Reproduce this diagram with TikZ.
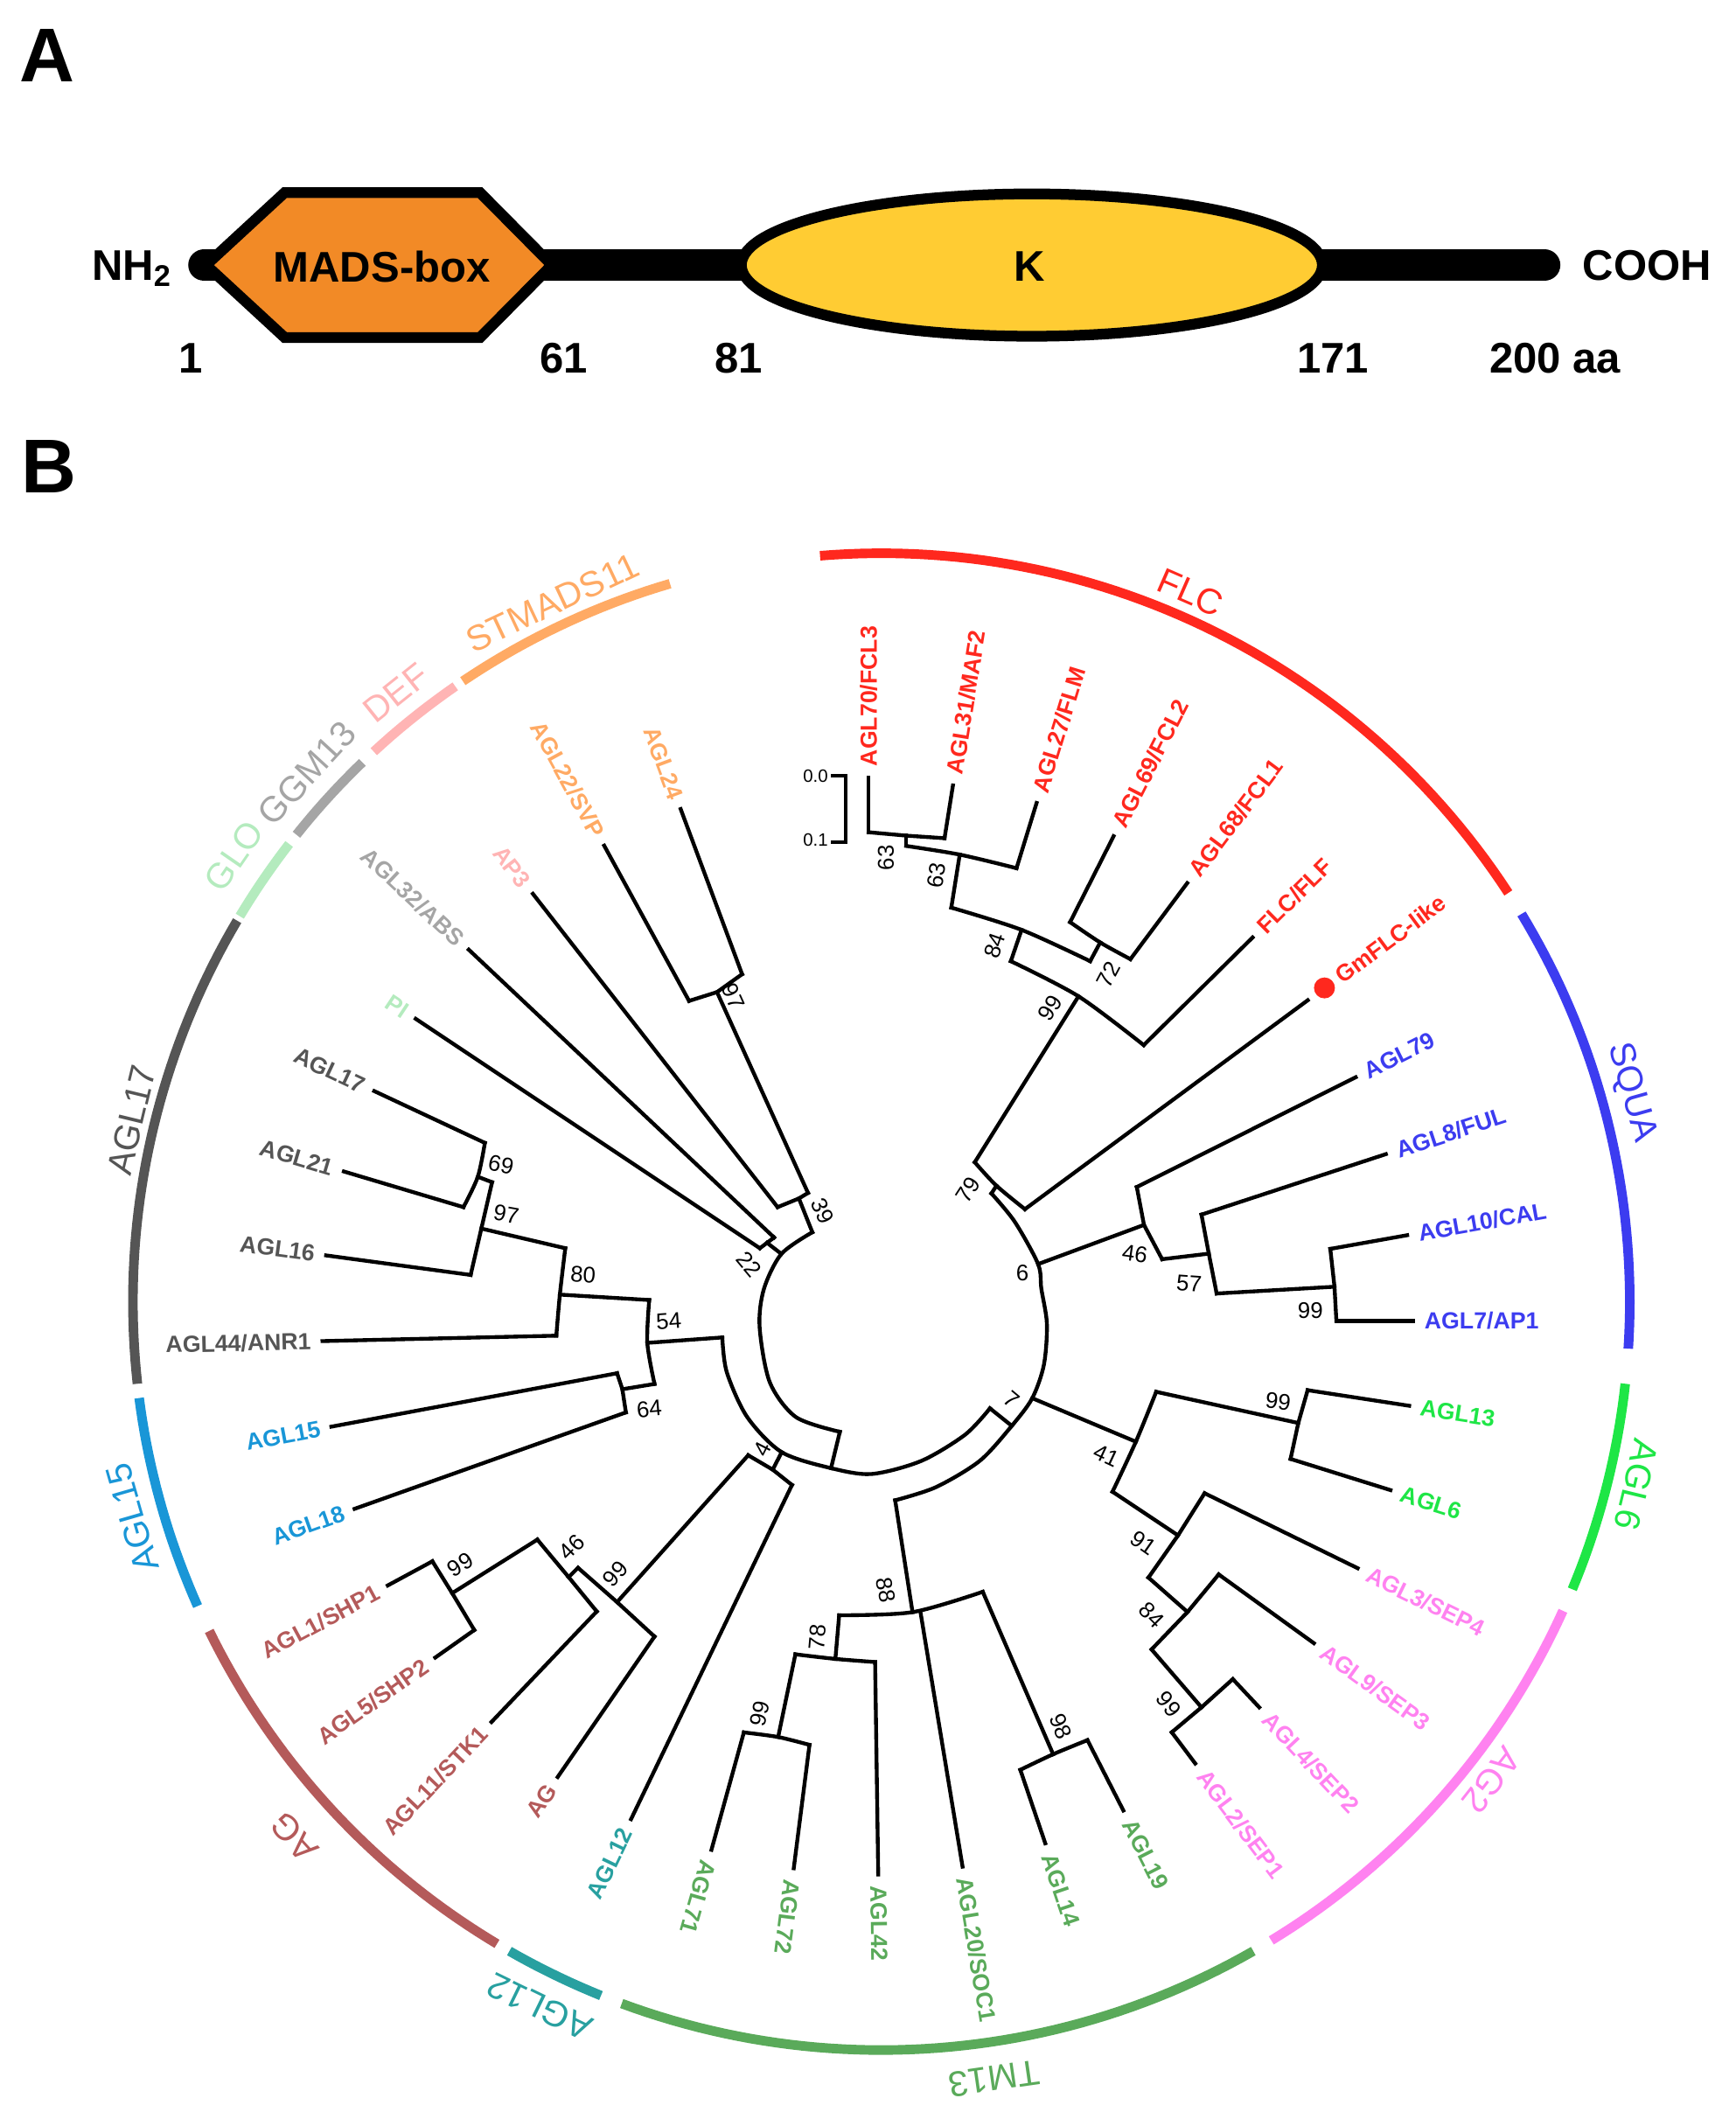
\documentclass[tikz,border=0pt]{standalone}
\usepackage{fontspec}
\setmainfont{Liberation Sans}
\usepackage{tikz}
\usetikzlibrary{calc}
\definecolor{madsorange}{RGB}{242,138,38}
\definecolor{kyellow}{RGB}{255,204,51}
\definecolor{cFLC}{RGB}{255,40,30}
\definecolor{cSQUA}{RGB}{60,60,240}
\definecolor{cAGLsix}{RGB}{30,230,70}
\definecolor{cAGtwo}{RGB}{255,130,240}
\definecolor{cTM}{RGB}{90,170,90}
\definecolor{cAGLtw}{RGB}{40,160,160}
\definecolor{cAG}{RGB}{180,90,90}
\definecolor{cAGLfif}{RGB}{25,150,215}
\definecolor{cAGLsev}{RGB}{85,85,85}
\definecolor{cGLO}{RGB}{180,235,190}
\definecolor{cGGM}{RGB}{165,165,165}
\definecolor{cDEF}{RGB}{255,180,180}
\definecolor{cSTM}{RGB}{255,170,100}
\begin{document}
\begin{tikzpicture}[x=0.02cm,y=-0.02cm,
	br/.style={line width=1.6pt,line cap=rect},
	clade/.style={line width=4pt},
	lr/.style={anchor=west,inner sep=4pt,font=\fontsize{9.8}{10}\selectfont\bfseries},
	ll/.style={anchor=east,inner sep=4pt,font=\fontsize{9.8}{10}\selectfont\bfseries},
	bs/.style={inner sep=0pt,font=\fontsize{9.5}{10}\selectfont},
	clab/.style={inner sep=0pt,font=\fontsize{15}{16}\selectfont},
	dom/.style={line width=4.5pt,line join=miter},
	big/.style={inner sep=0pt,font=\fontsize{18}{18}\selectfont\bfseries},
	panel/.style={inner sep=0pt,font=\fontsize{32}{32}\selectfont\bfseries}]
\useasboundingbox (0,0) rectangle (1280,1568);

% A: domain structure
\node[panel] (labA) at (35,41) {A};
\coordinate (nterm) at (150.6,195.5);
\coordinate (cterm) at (1139,195.5);
\draw[line width=13.4pt,line cap=round] (nterm) -- (cterm);
\draw[dom,fill=madsorange] (152,195.5) -- (210,142) -- (354,142) -- (407,195.5) -- (354,249) -- (210,249) -- cycle;
\draw[dom,fill=kyellow] (761,195.5) ellipse [x radius=4.286cm,y radius=1.05cm];
\node[big] (mads) at (281.6,196.8) {MADS-box};
\node[big] (kdom) at (759,196.8) {K};
\node[big,anchor=base east] (nh) at (127,206.5) {NH\textsubscript{2}};
\node[big,anchor=base west] (cooh) at (1167,206.5) {COOH};
\node[big,anchor=base] (p1) at (141,275.3) {1};
\node[big,anchor=base] (p61) at (416,275.3) {61};
\node[big,anchor=base] (p81) at (545,275.3) {81};
\node[big,anchor=base] (p171) at (983,275.3) {171};
\node[big,anchor=base] (p200) at (1147,275.3) {200 aa};

% B: tree
\node[panel] (labB) at (36,344) {B};

\draw[clade,cFLC] plot[domain=94.7:33.1,samples=60] ({650+552*cos(\x)},{960-552*sin(\x)});
\draw[clade,cSQUA] plot[domain=31.2:-3.6,samples=40] ({650+552*cos(\x)},{960-552*sin(\x)});
\draw[clade,cAGLsix] plot[domain=-6.3:-22.6,samples=20] ({650+552*cos(\x)},{960-552*sin(\x)});
\draw[clade,cAGtwo] plot[domain=-24.4:-58.6,samples=40] ({650+552*cos(\x)},{960-552*sin(\x)});
\draw[clade,cTM] plot[domain=-60.2:-110.3,samples=50] ({650+552*cos(\x)},{960-552*sin(\x)});
\draw[clade,cAGLtw] plot[domain=-112:-119.8,samples=10] ({650+552*cos(\x)},{960-552*sin(\x)});
\draw[clade,cAG] plot[domain=-120.9:-153.9,samples=40] ({650+552*cos(\x)},{960-552*sin(\x)});
\draw[clade,cAGLfif] plot[domain=-156:-172.6,samples=20] ({650+552*cos(\x)},{960-552*sin(\x)});
\draw[clade,cAGLsev] plot[domain=-173.7:-210.6,samples=40] ({650+552*cos(\x)},{960-552*sin(\x)});
\draw[clade,cGLO] plot[domain=149:142.3,samples=10] ({650+552*cos(\x)},{960-552*sin(\x)});
\draw[clade,cGGM] plot[domain=141.4:133.9,samples=10] ({650+552*cos(\x)},{960-552*sin(\x)});
\draw[clade,cDEF] plot[domain=132.7:124.7,samples=10] ({650+552*cos(\x)},{960-552*sin(\x)});
\draw[clade,cSTM] plot[domain=124:106.4,samples=20] ({650+552*cos(\x)},{960-552*sin(\x)});

\node[clab,text=cFLC,rotate=-23.6] (gFLC) at (878,437) {FLC};
\node[clab,text=cSQUA,rotate=-74.4] (gSQUA) at (1203,806) {SQUA};
\node[clab,text=cAGLsix,rotate=-103.6] (gAGLsix) at (1207,1095) {AGL6};
\node[clab,text=cAGtwo,rotate=-128.1] (gAGtwo) at (1100,1313) {AG2};
\node[clab,text=cTM,rotate=-171.8] (gTM) at (733,1533) {TM13};
\node[clab,text=cAGLtw,rotate=154.1] (gAGLtw) at (398,1480) {AGL12};
\node[clab,text=cAG,rotate=132.4] (gAG) at (217,1355) {AG};
\node[clab,text=cAGLfif,rotate=106.1] (gAGLfif) at (97.5,1119.4) {AGL15};
\node[clab,text=cAGLsev,rotate=76.4] (gAGLsev) at (97,826) {AGL17};
\node[clab,text=cGLO,rotate=55.4] (gGLO) at (172.8,631.2) {GLO};
\node[clab,text=cGGM,rotate=47.4] (gGGM) at (226.3,570.4) {GGM13};
\node[clab,text=cDEF,rotate=38.6] (gDEF) at (292.2,511.1) {DEF};
\node[clab,text=cSTM,rotate=25.2] (gSTM) at (407.3,444.5) {STMADS11};

% scale bar
\node[bs,anchor=east,font=\fontsize{7.5}{8}\selectfont] (sc0) at (611,572.1) {0.0};
\node[bs,anchor=east,font=\fontsize{7.5}{8}\selectfont] (sc1) at (611,619.6) {0.1};
\draw[br] (613.9,572.1) -- (623.8,572.1) -- (623.8,621) -- (613.9,621);

% backbone
\coordinate (s39) at (599.1,908.8);
\coordinate (s22) at (576.3,924.8);
\coordinate (r1) at (619.4,1056);
\coordinate (r1o) at (612.9,1082.8);
\coordinate (s54) at (532.7,986.4);
\coordinate (s4) at (576.5,1071);
\coordinate (r7) at (730.1,1038.7);
\coordinate (r7o) at (746.2,1051.6);
\coordinate (sTM) at (660.2,1106.5);
\coordinate (sAS) at (761.3,1031.2);
\coordinate (sSQ) at (765.6,932.3);
\coordinate (s79) at (731.2,880.2);
\draw[br] plot[smooth] coordinates {(s39) (s22) (563.4,950.6) (560.2,978.5) (567.7,1019.4) (587.1,1045.2) (r1)};
\draw[br] (r1) -- (r1o);
\draw[br] plot[smooth] coordinates {(s54) (536,1012) (551,1045) (s4) (r1o) (643,1087.1) (679.6,1077.4) (711.8,1058.1) (r7)};
\draw[br] (r7) -- (r7o);
\draw[br] plot[smooth] coordinates {(sTM) (690.3,1096.8) (722.6,1077.4) (r7o) (sAS) (769.9,1006.5) (772.1,976.4) (768,950.5) (sSQ) (748.4,901.1) (s79)};
\node[bs,rotate=-40] (bt7) at (746.2,1032.3) {7};
\node[bs] (bt6) at (754,939) {6};

% FLC
\coordinate (b70) at (640.6,613.8); \coordinate (t70) at (640.6,573.5);
\coordinate (b31) at (696.6,618.2); \coordinate (t31) at (702.8,579.3);
\coordinate (n63a) at (668.3,616.3); \coordinate (s63a) at (668.3,623.9);
\coordinate (b27) at (749.7,640.3); \coordinate (t27) at (764.5,592.2);
\coordinate (n63b) at (707.8,630.3); \coordinate (s63b) at (701.6,669.4);
\coordinate (b69) at (789.2,680.1); \coordinate (t69) at (821.3,616.7);
\coordinate (b68) at (833.7,707.4); \coordinate (t68) at (875.6,651.3);
\coordinate (n72) at (811.4,695.1); \coordinate (s72) at (804,708.9);
\coordinate (n84) at (753.4,685.8); \coordinate (s84) at (745.5,708.9);
\coordinate (bFLF) at (843.5,770.8); \coordinate (tFLF) at (923.8,691.4);
\coordinate (n99f) at (795.4,734.8); \coordinate (s99f) at (718.9,857.2);
\coordinate (bGm) at (755.9,891.8); \coordinate (tGm) at (964.5,737.7);
\coordinate (n79) at (734.9,874.5);
\draw[br] (b70) -- (t70) node[lr,rotate=90,text=cFLC] {AGL70/FCL3};
\draw[br] (b31) -- (t31) node[lr,rotate=80.9,text=cFLC] {AGL31/MAF2};
\draw[br] (b27) -- (t27) node[lr,rotate=72.9,text=cFLC] {AGL27/FLM};
\draw[br] (b69) -- (t69) node[lr,rotate=63.1,text=cFLC] {AGL69/FCL2};
\draw[br] (b68) -- (t68) node[lr,rotate=53.2,text=cFLC] {AGL68/FCL1};
\draw[br] (bFLF) -- (tFLF) node[lr,rotate=44.7,text=cFLC] {FLC/FLF};
\draw[br] (bGm) -- (tGm);
\fill[cFLC] ($(tGm)!-8.7pt!(bGm)$) circle (4.4pt);
\node[lr,rotate=36.5,text=cFLC] (lGm) at ($(tGm)!-11.5pt!(bGm)$) {GmFLC-like};
\draw[br] (b70) -- (n63a) -- (b31);
\draw[br] (n63a) -- (s63a);
\draw[br] plot[smooth] coordinates {(s63a) (n63b) (b27)};
\draw[br] (n63b) -- (s63b);
\draw[br] plot[smooth] coordinates {(b69) (n72) (b68)};
\draw[br] (n72) -- (s72);
\draw[br] plot[smooth] coordinates {(s63b) (n84) (s72)};
\draw[br] (n84) -- (s84);
\draw[br] plot[smooth] coordinates {(s84) (n99f) (bFLF)};
\draw[br] (n99f) -- (s99f);
\draw[br] plot[smooth] coordinates {(s99f) (n79) (bGm)};
\draw[br] (n79) -- (s79);
\node[bs,rotate=90] (bt63a) at (653.4,632.6) {63};
\node[bs,rotate=81] (bt63b) at (690.5,645.5) {63};
\node[bs,rotate=71] (bt84f) at (733.7,697.4) {84};
\node[bs,rotate=62] (bt72) at (817.6,719) {72};
\node[bs,rotate=58] (bt99f) at (774.4,743.4) {99};
\node[bs,rotate=57] (bt79) at (713.9,877.4) {79};

% SQUA
\coordinate (bA79) at (838.4,875.5); \coordinate (tA79) at (999.8,794.5);
\coordinate (bFUL) at (886.1,895.8); \coordinate (tFUL) at (1022.1,851.2);
\coordinate (bCAL) at (981.1,921.1); \coordinate (tCAL) at (1037.8,911);
\coordinate (bAP1) at (985.6,974.3); \coordinate (tAP1) at (1042.2,974.3);
\coordinate (n99s) at (984.2,949); \coordinate (s99s) at (897.3,954);
\coordinate (n57) at (891.5,924.6); \coordinate (s57) at (857.1,928.7);
\coordinate (n46) at (843.7,903.4);
\draw[br] (bA79) -- (tA79) node[lr,rotate=26.6,text=cSQUA] {AGL79};
\draw[br] (bFUL) -- (tFUL) node[lr,rotate=18.2,text=cSQUA] {AGL8/FUL};
\draw[br] (bCAL) -- (tCAL) node[lr,rotate=10.1,text=cSQUA] {AGL10/CAL};
\draw[br] (bAP1) -- (tAP1) node[lr,text=cSQUA] {AGL7/AP1};
\draw[br] (bCAL) -- (n99s) -- (bAP1);
\draw[br] (n99s) -- (s99s);
\draw[br] (bFUL) -- (n57) -- (s99s);
\draw[br] (n57) -- (s57);
\draw[br] (bA79) -- (n46) -- (s57);
\draw[br] (n46) -- (sSQ);
\node[bs,rotate=-8] (bt46s) at (837,925) {46};
\node[bs,rotate=-4] (bt57) at (877,946.5) {57};
\node[bs] (bt99s) at (966.4,966.7) {99};

% AGL6 and SEP
\coordinate (n41) at (837.7,1063.3);
\coordinate (a41t) at (852.7,1026.5); \coordinate (a41b) at (820.5,1100.2);
\coordinate (n99g) at (957.5,1049.5);
\coordinate (bA13) at (964.4,1025.3); \coordinate (tA13) at (1039.3,1036.8);
\coordinate (bA6) at (951.8,1076); \coordinate (tA6) at (1025.5,1099);
\coordinate (n91) at (868.8,1132.4); \coordinate (a91b) at (847,1163.5);
\coordinate (bS4) at (888.4,1101.3); \coordinate (tS4) at (1001.3,1156.6);
\coordinate (n84s) at (875.8,1188.9); \coordinate (a84b) at (849.3,1216.5);
\coordinate (bS3) at (898.8,1161.2); \coordinate (tS3) at (969,1211.9);
\coordinate (n99p) at (886.1,1259.2);
\coordinate (bS2) at (909.2,1238.4); \coordinate (tS2) at (928.7,1259.2);
\coordinate (bS1) at (864.2,1277.6); \coordinate (tS1) at (881.5,1300.6);
\draw[br] (sAS) -- (n41);
\draw[br] plot[smooth] coordinates {(a41t) (n41) (a41b)};
\draw[br] (a41t) -- (n99g);
\draw[br] (bA13) -- (n99g) -- (bA6);
\draw[br] (bA13) -- (tA13) node[lr,rotate=-8.7,text=cAGLsix] {AGL13};
\draw[br] (bA6) -- (tA6) node[lr,rotate=-17.3,text=cAGLsix] {AGL6};
\draw[br] (a41b) -- (n91);
\draw[br] (bS4) -- (n91) -- (a91b);
\draw[br] (bS4) -- (tS4) node[lr,rotate=-26.1,text=cAGtwo] {AGL3/SEP4};
\draw[br] (a91b) -- (n84s);
\draw[br] (bS3) -- (n84s) -- (a84b);
\draw[br] (bS3) -- (tS3) node[lr,rotate=-35.8,text=cAGtwo] {AGL9/SEP3};
\draw[br] (a84b) -- (n99p);
\draw[br] (bS2) -- (n99p) -- (bS1);
\draw[br] (bS2) -- (tS2) node[lr,rotate=-46.8,text=cAGtwo] {AGL4/SEP2};
\draw[br] (bS1) -- (tS1) node[lr,rotate=-53,text=cAGtwo] {AGL2/SEP1};
\node[bs,rotate=-7] (bt99g) at (942.6,1033.4) {99};
\node[bs,rotate=-25] (bt41) at (815.9,1073.7) {41};
\node[bs,rotate=-35] (bt91) at (843.5,1138.2) {91};
\node[bs,rotate=-45] (bt84s) at (849.3,1191.2) {84};
\node[bs,rotate=-52] (bt99p) at (861.9,1256.9) {99};

% TM13
\coordinate (n88) at (673,1189);
\coordinate (a88l) at (618.9,1191.3); \coordinate (a88r) at (724.8,1174);
\coordinate (bSOC) at (678.8,1188.6); \coordinate (tSOC) at (709.9,1376.7);
\coordinate (n78) at (616.1,1223.5); \coordinate (a78l) at (586.6,1220.1);
\coordinate (bA42) at (645.4,1225.8); \coordinate (tA42) at (647.7,1382.5);
\coordinate (n99t) at (573.9,1281.1);
\coordinate (bA71) at (548.6,1277.7); \coordinate (tA71) at (524.7,1364.3);
\coordinate (bA72) at (597,1286.9); \coordinate (tA72) at (585.4,1377.9);
\coordinate (n98) at (776.7,1293.8);
\coordinate (bA14) at (752.5,1305.3); \coordinate (tA14) at (770.9,1359.5);
\coordinate (bA19) at (802,1283.4); \coordinate (tA19) at (828.5,1335.3);
\draw[br] (sTM) -- (n88);
\draw[br] plot[smooth] coordinates {(a88l) (n88) (a88r)};
\draw[br] (bSOC) -- (tSOC) node[lr,rotate=-80.5,text=cTM] {AGL20/SOC1};
\draw[br] (a88l) -- (n78);
\draw[br] plot[smooth] coordinates {(a78l) (n78) (bA42)};
\draw[br] (bA42) -- (tA42) node[lr,rotate=-89.2,text=cTM] {AGL42};
\draw[br] (a78l) -- (n99t);
\draw[br] plot[smooth] coordinates {(bA71) (n99t) (bA72)};
\draw[br] (bA71) -- (tA71) node[lr,rotate=-106,text=cTM] {AGL71};
\draw[br] (bA72) -- (tA72) node[lr,rotate=-97.3,text=cTM] {AGL72};
\draw[br] (a88r) -- (n98);
\draw[br] plot[smooth] coordinates {(bA14) (n98) (bA19)};
\draw[br] (bA14) -- (tA14) node[lr,rotate=-71.3,text=cTM] {AGL14};
\draw[br] (bA19) -- (tA19) node[lr,rotate=-63,text=cTM] {AGL19};
\node[bs,rotate=-81] (bt88) at (653.4,1172.8) {88};
\node[bs,rotate=85] (bt78) at (602.7,1207.4) {78};
\node[bs,rotate=78] (bt99t) at (560.1,1263.9) {99};
\node[bs,rotate=-67] (bt98) at (782.4,1273.1) {98};

% AG and AGL12
\coordinate (n4) at (569.9,1083.9); \coordinate (a4l) at (551.8,1073.3);
\coordinate (bA12) at (584.1,1095.2); \coordinate (tA12) at (465.4,1341.7);
\coordinate (n99a) at (455.1,1181.6); \coordinate (a99l) at (426.3,1156.3);
\coordinate (bAG) at (482.7,1207); \coordinate (tAG) at (411.3,1310.6);
\coordinate (n46a) at (419.4,1163.2); \coordinate (a46t) at (396.3,1135.5);
\coordinate (bSTK) at (440.1,1188.5); \coordinate (tSTK) at (362.5,1270);
\coordinate (n99h) at (333.5,1175);
\coordinate (bSH1) at (318.9,1151.5); \coordinate (tSH1) at (286,1169.3);
\coordinate (bSH2) at (349.8,1202.2); \coordinate (tSH2) at (321,1222.5);
\draw[br] (s4) -- (n4);
\draw[br] (a4l) -- (n4) -- (bA12);
\draw[br] (bA12) -- (tA12) node[ll,rotate=64.3,text=cAGLtw] {AGL12};
\draw[br] (a4l) -- (n99a);
\draw[br] (a99l) -- (n99a) -- (bAG);
\draw[br] (bAG) -- (tAG) node[ll,rotate=55.4,text=cAG] {AG};
\draw[br] (a99l) -- (n46a);
\draw[br] (a46t) -- (n46a) -- (bSTK);
\draw[br] (bSTK) -- (tSTK) node[ll,rotate=46.4,text=cAG] {AGL11/STK1};
\draw[br] (a46t) -- (n99h);
\draw[br] (bSH1) -- (n99h) -- (bSH2);
\draw[br] (bSH1) -- (tSH1) node[ll,rotate=28.4,text=cAG] {AGL1/SHP1};
\draw[br] (bSH2) -- (tSH2) node[ll,rotate=35.2,text=cAG] {AGL5/SHP2};
\node[bs,rotate=63] (bt4) at (562.2,1068.7) {4};
\node[bs,rotate=48] (bt99a) at (454,1160.9) {99};
\node[bs,rotate=45] (bt46a) at (421.7,1141.3) {46};
\node[bs,rotate=32] (bt99h) at (339.5,1154.1) {99};

% AGL17 and AGL15
\coordinate (n54) at (477.4,990.4);
\coordinate (a54t) at (478.8,958.8); \coordinate (a54b) at (482.7,1020.7);
\coordinate (n64) at (459,1024.6);
\coordinate (bA15) at (455.1,1012.8); \coordinate (tA15) at (244.4,1052.2);
\coordinate (bA18) at (461.6,1041.7); \coordinate (tA18) at (261.5,1112.8);
\coordinate (n80) at (412.9,954.8); \coordinate (a80t) at (416.9,920.6);
\coordinate (bA44) at (410.3,985.1); \coordinate (tA44) at (237.8,989.1);
\coordinate (n97l) at (355,906.1); \coordinate (a97t) at (362.9,871.9);
\coordinate (bA16) at (347.1,940.3); \coordinate (tA16) at (240.5,925.9);
\coordinate (n69) at (352.4,867.9);
\coordinate (bA17) at (357.6,842.9); \coordinate (tA17) at (276,804.7);
\coordinate (bA21) at (341.8,890.3); \coordinate (tA21) at (253.6,864);
\draw[br] (s54) -- (n54);
\draw[br] plot[smooth] coordinates {(a54t) (n54) (a54b)};
\draw[br] (a54b) -- (n64);
\draw[br] (bA15) -- (n64) -- (bA18);
\draw[br] (bA15) -- (tA15) node[ll,rotate=10.6,text=cAGLfif] {AGL15};
\draw[br] (bA18) -- (tA18) node[ll,rotate=19.6,text=cAGLfif] {AGL18};
\draw[br] (a54t) -- (n80);
\draw[br] plot[smooth] coordinates {(a80t) (n80) (bA44)};
\draw[br] (bA44) -- (tA44) node[ll,rotate=1.3,text=cAGLsev] {AGL44/ANR1};
\draw[br] (a80t) -- (n97l);
\draw[br] plot[smooth] coordinates {(a97t) (n97l) (bA16)};
\draw[br] (bA16) -- (tA16) node[ll,rotate=-7.7,text=cAGLsev] {AGL16};
\draw[br] (a97t) -- (n69);
\draw[br] plot[smooth] coordinates {(bA17) (n69) (bA21)};
\draw[br] (bA17) -- (tA17) node[ll,rotate=-25.1,text=cAGLsev] {AGL17};
\draw[br] (bA21) -- (tA21) node[ll,rotate=-16.6,text=cAGLsev] {AGL21};
\node[bs,rotate=5] (bt64) at (478.8,1039.1) {64};
\node[bs,rotate=4] (bt54) at (493.2,974.6) {54};
\node[bs,rotate=-3.5] (bt80) at (430,940.3) {80};
\node[bs,rotate=-10] (bt97l) at (373.4,895.6) {97};
\node[bs,rotate=-12] (bt69) at (369.5,858.7) {69};

% PI, AGL32, AP3, AGL22, AGL24
\coordinate (n22) at (565.7,916.6);
\coordinate (bPI) at (560.4,920.6); \coordinate (tPI) at (306.6,751.4);
\coordinate (bA32) at (570.9,912.7); \coordinate (tA32) at (345.7,700.4);
\coordinate (n39) at (589.2,883.9);
\coordinate (bAP3) at (573.5,890.3); \coordinate (tAP3) at (393,659.2);
\coordinate (a39r) at (595.9,879.8);
\coordinate (n97t) at (528.8,731.7);
\coordinate (bSVP) at (508.2,738.2); \coordinate (tSVP) at (445.6,623.7);
\coordinate (bA24) at (547.3,718.5); \coordinate (tA24) at (502,596.7);
\draw[br] (s22) -- (n22);
\draw[br] (bPI) -- (n22) -- (bA32);
\draw[br] (bPI) -- (tPI) node[ll,rotate=-33.7,text=cGLO] {PI};
\draw[br] (bA32) -- (tA32) node[ll,rotate=-43.3,text=cGGM] {AGL32/ABS};
\draw[br] (s39) -- (n39);
\draw[br] (bAP3) -- (n39) -- (a39r);
\draw[br] (bAP3) -- (tAP3) node[ll,rotate=-52,text=cDEF] {AP3};
\draw[br] (a39r) -- (n97t);
\draw[br] (bSVP) -- (n97t) -- (bA24);
\draw[br] (bSVP) -- (tSVP) node[ll,rotate=-61.3,text=cSTM] {AGL22/SVP};
\draw[br] (bA24) -- (tA24) node[ll,rotate=-69.6,text=cSTM] {AGL24};
\node[bs,rotate=-50] (bt22) at (552.5,932.4) {22};
\node[bs,rotate=-65] (bt39) at (606.4,893) {39};
\node[bs,rotate=-65.6] (bt97t) at (541.1,734.9) {97};
\end{tikzpicture}
\end{document}
